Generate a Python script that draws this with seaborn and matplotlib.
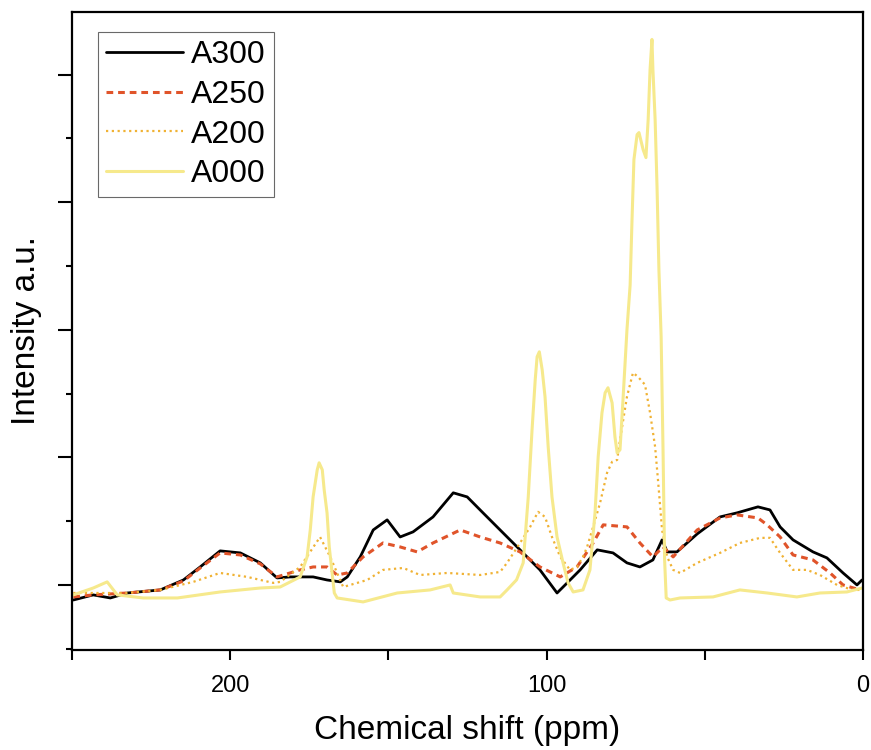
import matplotlib
matplotlib.use("Agg")
import matplotlib.pyplot as plt
import seaborn as sns
import pandas as pd
from matplotlib.ticker import MultipleLocator

# chemical shift (ppm) and intensity (a.u.)
a300_ppm = [249.6, 243.3, 237.9, 232.5, 222.1, 214.8, 209.5, 203.2, 196.8, 190.5, 185.2, 181.0,
            177.9, 173.8, 169.4, 165.2, 163.0, 158.9, 154.8, 150.4, 146.3, 142.2, 135.9, 129.5,
            125.1, 120.1, 114.7, 108.4, 102.1, 96.7, 93.5, 89.4, 84.0, 79.0, 74.6, 70.5, 66.4,
            63.5, 61.9, 58.8, 52.4, 45.2, 39.8, 33.2, 29.4, 26.2, 22.1, 15.8, 11.4, 6.3, 1.9, 0.3]
a300_int = [-0.118, -0.078, -0.102, -0.063, -0.039, 0.039, 0.141, 0.267, 0.251, 0.173, 0.055, 0.063,
            0.063, 0.063, 0.039, 0.024, 0.063, 0.220, 0.431, 0.510, 0.376, 0.416, 0.533, 0.722,
            0.690, 0.565, 0.431, 0.275, 0.118, -0.063, 0.016, 0.118, 0.275, 0.251, 0.173, 0.141, 0.196,
            0.353, 0.259, 0.259, 0.400, 0.533, 0.565, 0.612, 0.588, 0.455, 0.353, 0.259, 0.212, 0.094, 0.0, 0.039]

a250_ppm = [249.6, 243.3, 232.5, 222.1, 214.8, 209.5, 203.2, 196.8, 190.5, 185.2, 177.9, 173.8,
            169.4, 166.2, 163.0, 158.0, 151.7, 146.3, 140.9, 135.9, 127.3, 121.0, 114.7, 108.4,
            102.1, 95.7, 90.4, 85.3, 82.1, 74.6, 70.5, 66.4, 63.2, 60.0, 52.4, 45.2, 39.8, 33.2,
            30.3, 26.2, 22.1, 15.8, 10.4, 6.3, 0.9]
a250_int = [-0.094, -0.078, -0.063, -0.039, 0.031, 0.133, 0.251, 0.235, 0.165, 0.063, 0.118, 0.141,
            0.141, 0.078, 0.094, 0.220, 0.329, 0.298, 0.259, 0.329, 0.431, 0.376, 0.329, 0.259,
            0.141, 0.063, 0.141, 0.329, 0.471, 0.455, 0.329, 0.220, 0.298, 0.220, 0.431, 0.525, 0.549, 0.525,
            0.471, 0.376, 0.235, 0.196, 0.094, 0.0, -0.039]

a200_ppm = [249.6, 232.5, 222.1, 211.7, 203.2, 194.6, 186.4, 184.2, 177.9, 171.6, 168.4, 164.3,
            156.7, 151.7, 145.3, 140.0, 131.4, 121.0, 114.7, 112.5, 108.4, 105.2, 102.7, 100.5,
            98.3, 95.7, 92.6, 90.4, 88.5, 87.2, 85.3, 83.1, 80.9, 79.3, 77.7, 76.8, 74.6, 72.7,
            71.1, 68.9, 67.3, 65.7, 64.8, 63.5, 61.9, 60.0, 57.8, 52.4,
            45.2, 38.9, 32.5, 29.4, 26.2, 22.1, 17.7, 13.6, 8.2, 3.2, 0.3]
a200_int = [-0.063, -0.063, -0.039, 0.024, 0.094, 0.063, 0.016, 0.024, 0.141, 0.376, 0.220, -0.016,
            0.039, 0.118, 0.133, 0.078, 0.094, 0.078, 0.102, 0.173, 0.329, 0.455, 0.573, 0.533,
            0.376, 0.220, 0.118, 0.141, 0.220, 0.298, 0.455, 0.643, 0.878, 0.965, 0.980, 1.137, 1.475, 1.663,
            1.631, 1.569, 1.349, 1.082, 0.824, 0.431, 0.220, 0.118, 0.094, 0.173,
            0.251, 0.329, 0.369, 0.369, 0.251, 0.118, 0.118, 0.078, 0.0, -0.039, -0.039]

a000_ppm = [249.6, 243.3, 238.9, 235.7, 227.5, 216.7, 203.2, 190.5, 184.2, 177.9, 175.7, 174.7,
            173.8, 172.5, 171.9, 170.9, 170.3, 169.4, 168.7, 167.8, 167.1, 166.2, 158.0, 147.2,
            136.8, 130.5, 129.5, 121.0, 114.7, 112.5, 109.5, 107.4, 105.8, 104.6, 103.6, 103.0,
            102.3, 101.4, 100.5, 99.5, 98.3, 96.7, 94.8, 93.2, 91.6, 88.5, 86.3, 84.7, 83.7, 82.5,
            81.5, 80.6, 79.3, 78.4, 77.7, 76.8, 75.8, 74.6, 73.6, 73.0, 72.4, 71.4, 70.8, 69.5,
            68.6, 67.9, 67.3, 66.7, 66.4, 65.7, 65.1, 64.5, 63.8, 63.2, 62.7, 62.2, 61.0, 57.8,
            47.4, 38.9, 30.3, 20.9, 13.6, 5.1, 0.3]
a000_int = [-0.078, -0.024, 0.024, -0.078, -0.102, -0.102, -0.055, -0.024, -0.016, 0.063, 0.220, 0.431,
            0.690, 0.902, 0.957, 0.902, 0.745, 0.565, 0.298, 0.094, -0.063, -0.102, -0.133, -0.063,
            -0.039, 0.0, -0.063, -0.094, -0.094, -0.039, 0.040, 0.173, 0.690, 1.216, 1.608, 1.788,
            1.827, 1.686, 1.475, 1.082, 0.690, 0.376, 0.173, 0.016, -0.055, -0.039, 0.118, 0.565, 1.004, 1.349,
            1.506, 1.545, 1.427, 1.161, 1.035, 1.059, 1.475, 2.000, 2.350, 2.863, 3.333, 3.529, 3.545, 3.412,
            3.349, 3.647, 4.039, 4.275, 4.039, 3.647, 3.122, 2.471, 1.945, 1.059, 0.196, -0.102, -0.118, -0.102,
            -0.094, -0.039, -0.063, -0.094, -0.063, -0.055, -0.024]

series_names = ["A300", "A250", "A200", "A000"]
colors = ["#000000", "#E0542A", "#F0B234", "#F6E98C"]
styles = ["-", (0, (2.2, 1.6)), (0, (1, 1.6)), "-"]
widths = [2.0, 2.2, 1.6, 2.2]

x_ticks = [250, 200, 150, 100, 50, 0]
x_labels = ["", "200", "", "100", "", "0"]

sns.set_style("ticks")
plt.rcParams["font.family"] = ["Liberation Sans", "DejaVu Sans"]
plt.rcParams["text.color"] = "black"
plt.rcParams["axes.labelcolor"] = "black"
plt.rcParams["xtick.color"] = "black"
plt.rcParams["ytick.color"] = "black"

fig = plt.figure(figsize=(8.71, 7.5), dpi=100)
ax = fig.add_axes([0.0827, 0.1333, 0.9081, 0.8507])

all_ppm = [a300_ppm, a250_ppm, a200_ppm, a000_ppm]
all_int = [a300_int, a250_int, a200_int, a000_int]
for name, xs, ys, c, ls, lw in zip(series_names, all_ppm, all_int, colors, styles, widths):
    df = pd.DataFrame({"ppm": xs, "intensity": ys})
    sns.lineplot(data=df, x="ppm", y="intensity", ax=ax, color=c, linestyle=ls,
                 linewidth=lw, label=name, sort=False, estimator=None)

ax.set_xlim(250, 0)
ax.set_ylim(-0.51, 4.49)
ax.set_xticks(x_ticks)
ax.set_xticklabels(x_labels, fontsize=17)
ax.yaxis.set_major_locator(MultipleLocator(1))
ax.yaxis.set_minor_locator(MultipleLocator(0.5))
ax.set_yticklabels([])
ax.tick_params(axis="x", direction="out", length=7, width=1.5, pad=11, colors="black")
ax.tick_params(axis="y", which="major", direction="out", length=10, width=1.5, colors="black")
ax.tick_params(axis="y", which="minor", direction="out", length=4, width=1.5, colors="black")
for sp in ax.spines.values():
    sp.set_visible(True)
    sp.set_linewidth(1.6)
    sp.set_color("black")

ax.set_xlabel("Chemical shift (ppm)", fontsize=24, labelpad=13, color="black")
ax.set_ylabel("Intensity a.u.", fontsize=24, labelpad=8, color="black")

leg = ax.legend(loc="upper left", bbox_to_anchor=(0.033, 0.968), fontsize=23, frameon=True,
                fancybox=False, edgecolor="#444444", handlelength=2.4, handletextpad=0.25,
                labelspacing=0.3, borderpad=0.25, borderaxespad=0)
leg.get_frame().set_linewidth(0.8)

fig.savefig("out.png", dpi=100)
